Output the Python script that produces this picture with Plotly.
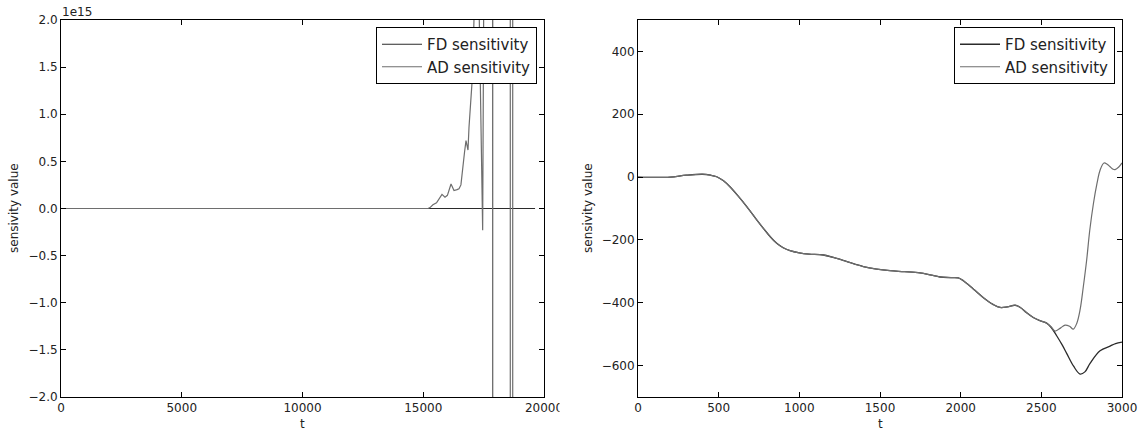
import plotly.graph_objects as go

# ---------------- Left panel data (values in units of 1e15) ----------------
t_left_fd = [0, 19630]
fd_left_e15 = [0, 0]

t_left_ad = [0, 13600, 13900, 14200, 14575, 15200, 15280, 15400, 15550, 15700, 15776,
             15900, 16000, 16150, 16273, 16400, 16480, 16560, 16604, 16646, 16710,
             16770, 16853, 16894, 16960, 17018, 17060, 17114, 17200, 17321, 17460,
             17500, 17600, 17870, 17875, 17880, 18600, 18608, 18700, 18708, 19630]
ad_left_e15 = [0, 0, 0.004, 0.006, 0.002, 0, 0.01, 0.04, 0.06, 0.13, 0.15,
               0.12, 0.14, 0.26, 0.19, 0.2, 0.21, 0.25, 0.37, 0.48, 0.6,
               0.72, 0.62, 0.86, 1.1, 1.33, 1.6, 2.0, 3.0, 2.0, -0.23,
               2.0, 6.0, 1000, -1000, 1000, 1000, -1000, -1000, 1000, 1000]

# ---------------- Right panel data ----------------
t_common = [0, 100, 200, 300, 400, 450, 488, 530, 570, 620, 674, 730, 777, 820, 860,
            900, 942, 1000, 1060, 1149, 1232, 1300, 1397, 1480, 1562, 1650, 1748,
            1810, 1872, 1940, 1985, 2017, 2080, 2141, 2200, 2244, 2290, 2337, 2370,
            2409, 2450, 2492, 2533]
v_common = [0, -1, 0, 6, 9, 6, 1, -12, -31, -60, -94, -132, -163, -190, -211,
            -225, -234, -241, -245, -248, -259, -270, -285, -293, -298, -301, -305,
            -311, -318, -320, -321, -330, -357, -384, -405, -415, -413, -408, -415,
            -432, -447, -457, -465]

t_fd_tail = [2560, 2595, 2630, 2657, 2700, 2740, 2770, 2802, 2864, 2926, 2960, 3000]
fd_tail = [-478, -505, -535, -561, -602, -627, -620, -593, -553, -538, -530, -525]

t_ad_tail = [2560, 2585, 2620, 2647, 2675, 2698, 2720, 2740, 2760, 2781, 2800, 2823,
             2845, 2864, 2888, 2910, 2926, 2945, 2957, 2980, 3000]
ad_tail = [-476, -490, -480, -471, -475, -484, -465, -423, -350, -264, -170, -84,
           -20, 22, 45, 40, 33, 25, 24, 32, 45]

left_xticks = [0, 5000, 10000, 15000, 20000]
left_yticks = [-2.0, -1.5, -1.0, -0.5, 0.0, 0.5, 1.0, 1.5, 2.0]
right_xticks = [0, 500, 1000, 1500, 2000, 2500, 3000]
right_yticks = [-600, -400, -200, 0, 200, 400]

FD_COLOR = "#2b2b2b"
AD_COLOR = "#6e6e6e"
W, H = 1144, 432
FONT = "DejaVu Sans"

fig = go.Figure()
fig.add_trace(go.Scatter(x=t_left_fd, y=fd_left_e15, mode="lines", name="FD sensitivity",
                         line=dict(color=FD_COLOR, width=1.2), xaxis="x", yaxis="y",
                         legend="legend"))
fig.add_trace(go.Scatter(x=t_left_ad, y=ad_left_e15, mode="lines", name="AD sensitivity",
                         line=dict(color=AD_COLOR, width=1.2), xaxis="x", yaxis="y",
                         legend="legend"))
fig.add_trace(go.Scatter(x=t_common + t_fd_tail, y=v_common + fd_tail, mode="lines",
                         name="FD sensitivity", line=dict(color=FD_COLOR, width=1.3, shape="spline"),
                         xaxis="x2", yaxis="y2", legend="legend2"))
fig.add_trace(go.Scatter(x=t_common + t_ad_tail, y=v_common + ad_tail, mode="lines",
                         name="AD sensitivity", line=dict(color=AD_COLOR, width=1.2, shape="spline"),
                         xaxis="x2", yaxis="y2", legend="legend2"))

def px_x(p):
    return p / W

def px_y(p):
    return 1 - p / H

ax_common = dict(showline=True, linecolor="black", linewidth=1, mirror="ticks",
                 ticks="inside", ticklen=5, tickcolor="black", showgrid=False,
                 zeroline=False, automargin=False,
                 tickfont=dict(family=FONT, size=12, color="#222"))

fig.update_layout(
    width=W, height=H,
    margin=dict(l=0, r=0, t=0, b=0),
    paper_bgcolor="white", plot_bgcolor="white",
    showlegend=True,
    xaxis=dict(domain=[px_x(61), px_x(544)], range=[0, 20000], tickvals=left_xticks,
               ticktext=[str(v) for v in left_xticks], anchor="y", **ax_common),
    yaxis=dict(domain=[px_y(397), px_y(20)], range=[-2, 2], tickvals=left_yticks,
               tickformat=".1f", anchor="x", **ax_common),
    xaxis2=dict(domain=[px_x(638), px_x(1122)], range=[0, 3000], tickvals=right_xticks,
                anchor="y2", **ax_common),
    yaxis2=dict(domain=[px_y(397), px_y(20)], range=[-700, 500], tickvals=right_yticks,
                anchor="x2", **ax_common),
    legend=dict(x=px_x(537), y=px_y(27), xanchor="right", yanchor="top",
                bordercolor="black", borderwidth=1, bgcolor="white",
                font=dict(family=FONT, size=15, color="#222"), itemwidth=40),
    legend2=dict(x=px_x(1115), y=px_y(27), xanchor="right", yanchor="top",
                 bordercolor="black", borderwidth=1, bgcolor="white",
                 font=dict(family=FONT, size=15, color="#222"), itemwidth=40),
)

ann_font = dict(family=FONT, size=12, color="#222")
annotations = [
    dict(text="t", x=px_x((61 + 544) / 2), y=px_y(424), xref="paper", yref="paper",
         showarrow=False, font=ann_font, xanchor="center", yanchor="middle"),
    dict(text="t", x=px_x((638 + 1122) / 2), y=px_y(424), xref="paper", yref="paper",
         showarrow=False, font=ann_font, xanchor="center", yanchor="middle"),
    dict(text="sensivity value", x=px_x(14), y=px_y(208), xref="paper", yref="paper",
         showarrow=False, font=ann_font, textangle=-90, xanchor="center", yanchor="middle"),
    dict(text="sensivity value", x=px_x(588), y=px_y(208), xref="paper", yref="paper",
         showarrow=False, font=ann_font, textangle=-90, xanchor="center", yanchor="middle"),
    dict(text="1e15", x=px_x(60), y=px_y(12), xref="paper", yref="paper",
         showarrow=False, font=ann_font, xanchor="left", yanchor="middle"),
]
fig.update_layout(annotations=annotations)

# clip the last left tick label like the reference (cut at the figure tile edge)
fig.add_shape(type="rect", xref="paper", yref="paper", x0=px_x(559.5), x1=px_x(585),
              y0=px_y(420), y1=px_y(399), fillcolor="white", line=dict(width=0),
              layer="above")

fig.write_html("out.html", config={"displayModeBar": False},
               post_script="document.body.style.margin='0';document.body.style.overflow='hidden';")
